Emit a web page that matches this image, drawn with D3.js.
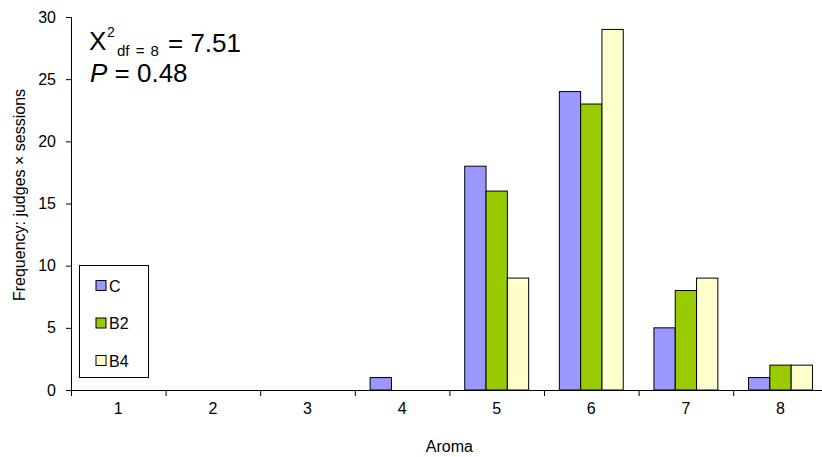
<!DOCTYPE html>
<html>
<head>
<meta charset="utf-8">
<script src="https://cdn.jsdelivr.net/npm/d3@7"></script>
<style>
  body { margin: 0; background: #fff; }
  svg { display: block; font-family: "Liberation Sans", Arial, sans-serif; }
</style>
</head>
<body>
<div id="chart"></div>
<script>
const width = 822;
const height = 457;
const margin = { left: 71, top: 17, bottom: 67 };
const plotRight = 71 + 8 * 94.6;

const categories = ["1", "2", "3", "4", "5", "6", "7", "8"];
const series = ["C", "B2", "B4"];
const colors = ["#9999ff", "#99cc00", "#ffffcc"];
const valuesC = [0, 0, 0, 1, 18, 24, 5, 1];
const valuesB2 = [0, 0, 0, 0, 16, 23, 8, 2];
const valuesB4 = [0, 0, 0, 0, 9, 29, 9, 2];
const yTicks = [0, 5, 10, 15, 20, 25, 30];

const allValues = [valuesC, valuesB2, valuesB4];

const svg = d3
  .select("#chart")
  .append("svg")
  .attr("width", width)
  .attr("height", height);

const x = d3
  .scaleBand()
  .domain(categories)
  .range([margin.left, plotRight]);

const xInner = d3
  .scaleBand()
  .domain(series)
  .range([0, x.bandwidth()])
  .paddingOuter(0.72);

const y = d3
  .scaleLinear()
  .domain([0, 30])
  .range([height - margin.bottom, margin.top]);

// bars
series.forEach((s, si) => {
  svg
    .append("g")
    .selectAll("rect")
    .data(categories.map((c, i) => ({ c: c, v: allValues[si][i] })).filter((d) => d.v > 0))
    .enter()
    .append("rect")
    .attr("x", (d) => x(d.c) + xInner(s))
    .attr("y", (d) => y(d.v))
    .attr("width", xInner.bandwidth())
    .attr("height", (d) => y(0) - y(d.v))
    .attr("fill", colors[si])
    .attr("stroke", "#000")
    .attr("stroke-width", 1);
});

// y axis
const yAxis = svg
  .append("g")
  .attr("transform", `translate(${margin.left},0)`)
  .call(d3.axisLeft(y).tickValues(yTicks).tickSize(5).tickPadding(10));
yAxis.select(".domain").attr("stroke", "#000");
yAxis.selectAll("text").attr("font-size", 16).attr("fill", "#000").attr("font-family", null);

// x axis: labels centred, ticks at category borders
const xAxis = svg
  .append("g")
  .attr("transform", `translate(0,${y(0)})`)
  .call(d3.axisBottom(x).tickSize(0).tickPadding(13));
xAxis.select(".domain").attr("d", `M${margin.left},0.5H${plotRight}`).attr("stroke", "#000");
xAxis.selectAll("text").attr("font-size", 16).attr("fill", "#000").attr("font-family", null);
xAxis
  .selectAll(".border")
  .data(categories)
  .enter()
  .append("line")
  .attr("x1", (d) => x(d) + 0.5)
  .attr("x2", (d) => x(d) + 0.5)
  .attr("y1", 0)
  .attr("y2", 6)
  .attr("stroke", "#000");

// axis titles
svg
  .append("text")
  .attr("x", (margin.left + plotRight) / 2)
  .attr("y", 452)
  .attr("text-anchor", "middle")
  .attr("font-size", 16)
  .text("Aroma");

svg
  .append("text")
  .attr("transform", "translate(25,195) rotate(-90)")
  .attr("text-anchor", "middle")
  .attr("font-size", 16)
  .text("Frequency: judges × sessions");

// statistic annotation
const stat = svg.append("text").attr("x", 89).attr("y", 50).attr("font-size", 26);
stat.append("tspan").text("X");
stat.append("tspan").attr("x", 107).attr("y", 37).attr("font-size", 14).text("2");
stat.append("tspan").attr("x", 117).attr("y", 56).attr("font-size", 15).attr("word-spacing", 2).text("df = 8");
stat.append("tspan").attr("x", 168).attr("y", 52).text("= 7.51");

const pText = svg.append("text").attr("x", 90).attr("y", 82).attr("font-size", 26);
pText.append("tspan").attr("font-style", "italic").text("P");
pText.append("tspan").text(" = 0.48");

// legend
const legend = svg.append("g").attr("transform", "translate(79,265)");
legend
  .append("rect")
  .attr("x", 0.5)
  .attr("y", 0.5)
  .attr("width", 69)
  .attr("height", 112)
  .attr("fill", "#fff")
  .attr("stroke", "#000");

const legendItems = legend
  .selectAll(".item")
  .data(series)
  .enter()
  .append("g")
  .attr("transform", (d, i) => `translate(17,${15.5 + i * 37.5})`);

legendItems
  .append("rect")
  .attr("width", 10)
  .attr("height", 10)
  .attr("fill", (d, i) => colors[i])
  .attr("stroke", "#000");

legendItems
  .append("text")
  .attr("x", 13)
  .attr("y", 11)
  .attr("font-size", 16)
  .text((d) => d);
</script>
</body>
</html>
